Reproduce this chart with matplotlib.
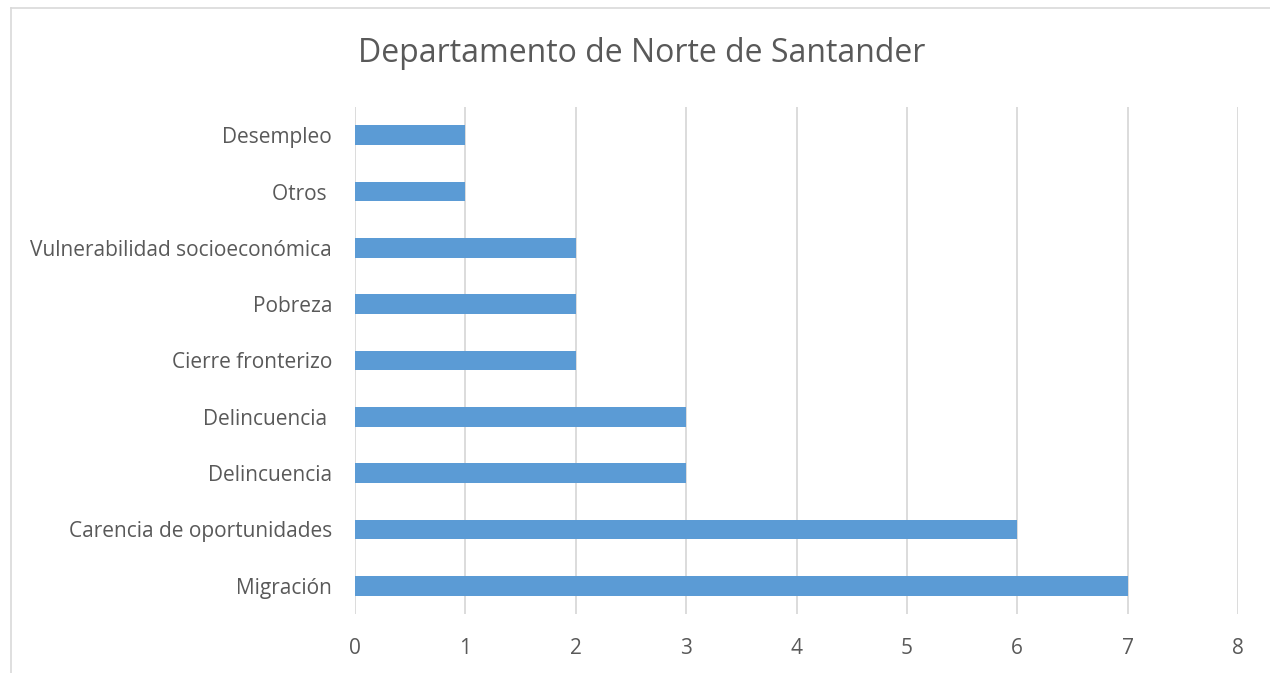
import matplotlib
matplotlib.use("Agg")
import matplotlib.pyplot as plt
from matplotlib.lines import Line2D

categories = ["Migración", "Carencia de oportunidades", "Delincuencia", "Delincuencia ",
              "Cierre fronterizo", "Pobreza", "Vulnerabilidad socioeconómica", "Otros ", "Desempleo"]
values = [7, 6, 3, 3, 2, 2, 2, 1, 1]
xticks = [0, 1, 2, 3, 4, 5, 6, 7, 8]
title = "Departamento de Norte de Santander"

plt.rcParams['font.family'] = ['Open Sans', 'DejaVu Sans']
text_color = '#595959'
grid_color = '#D9D9D9'
bar_color = '#5B9BD5'

fig = plt.figure(figsize=(12.7, 6.73), dpi=100)
ax = fig.add_axes([355/1270, (673-614)/673, (1238-355)/1270, (614-107)/673])

ypos = list(range(len(categories)))
ax.barh(ypos, values, height=0.35, color=bar_color, zorder=3)
ax.set_xlim(0, 8)
ax.set_ylim(-0.5, len(categories) - 0.5)
ax.set_xticks(xticks)
ax.set_xticklabels([str(t) for t in xticks])
ax.set_yticks(ypos)
ax.set_yticklabels(categories)
ax.grid(axis='x', color=grid_color, linewidth=1.3, zorder=0)
for s in ax.spines.values():
    s.set_visible(False)
ax.tick_params(axis='both', length=0, labelsize=15, labelcolor=text_color)
ax.tick_params(axis='x', pad=17.5)
ax.tick_params(axis='y', pad=16.5)

fig.text(642/1270, 1 - 54/673, title, ha='center', va='center', fontsize=23, color=text_color)

# chart border (light gray)
fig.add_artist(Line2D([11/1270, 11/1270], [0, 1 - 8/673], transform=fig.transFigure, color=grid_color, linewidth=1.2))
fig.add_artist(Line2D([11/1270, 1], [1 - 8/673, 1 - 8/673], transform=fig.transFigure, color=grid_color, linewidth=1.2))

fig.savefig("out.png", dpi=100)
